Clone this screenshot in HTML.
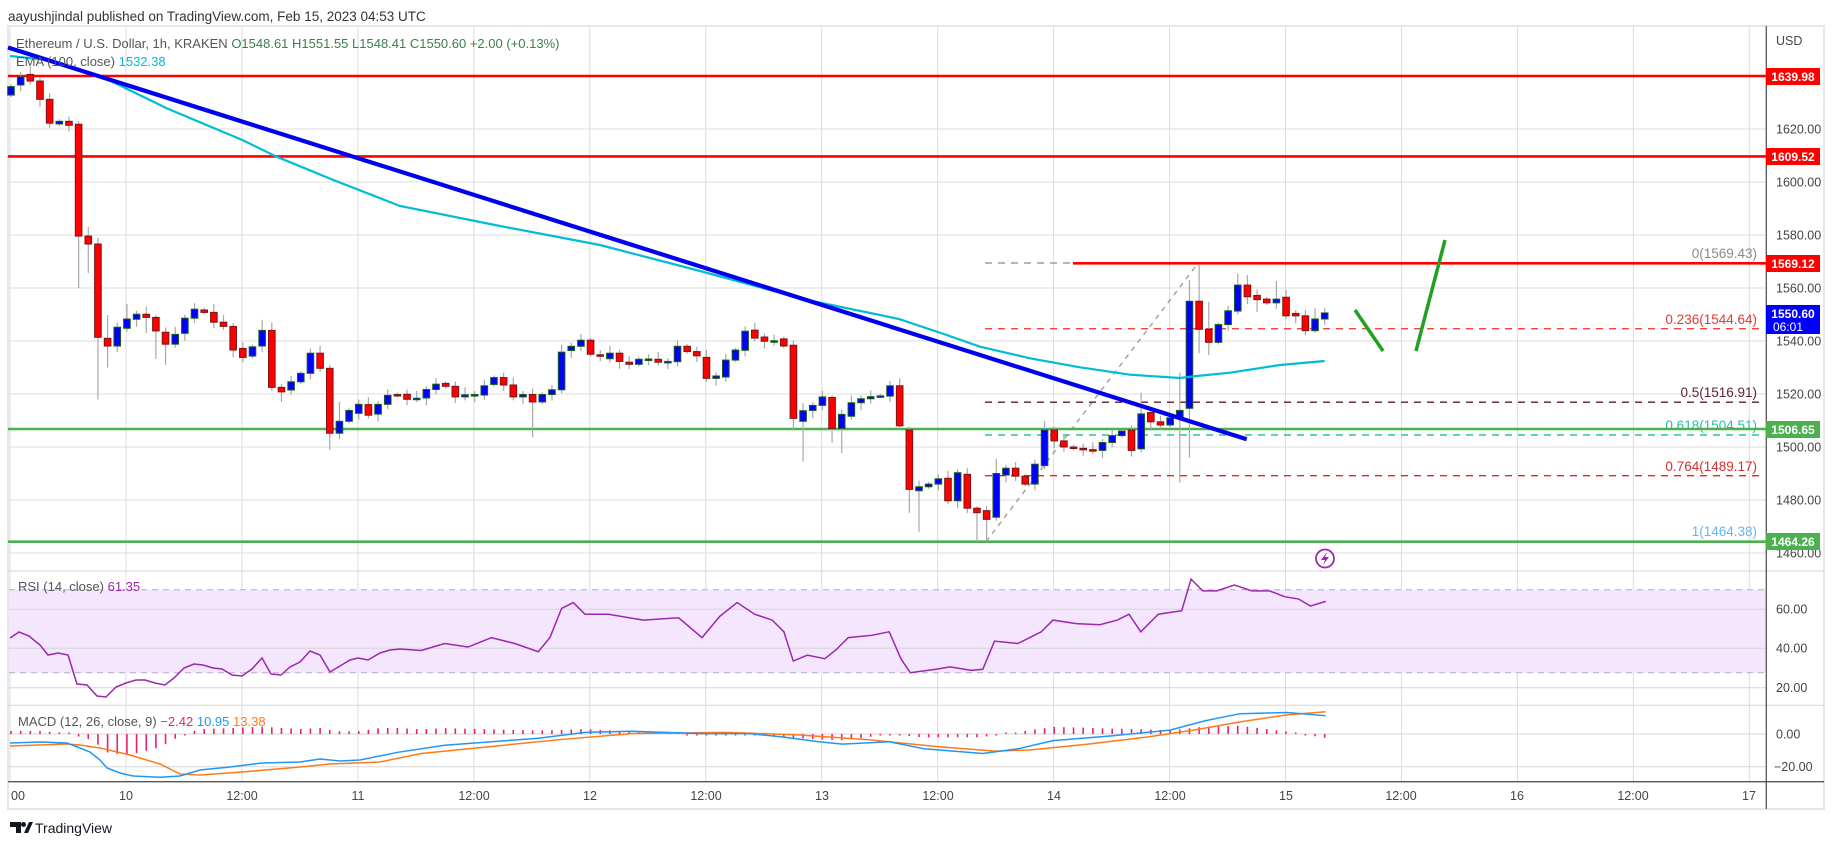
<!DOCTYPE html>
<html><head><meta charset="utf-8">
<style>
html,body{margin:0;padding:0;background:#fff;}
svg{display:block;font-family:"Liberation Sans",Arial,sans-serif;}
</style></head>
<body>
<svg id="s" xmlns="http://www.w3.org/2000/svg" width="1834" height="845" viewBox="0 0 1834 845">
<rect x="0" y="0" width="1834" height="845" fill="#fff"/>
<text x="8" y="21" font-size="13.5" fill="#333">aayushjindal published on TradingView.com, Feb 15, 2023 04:53 UTC</text>
<rect x="8" y="26" width="1816" height="783" fill="#fff" stroke="#e6e7ec" stroke-width="2"/>
<g id="grid" stroke="#dcdcdc" stroke-width="1"></g>
<rect x="9" y="589.8" width="1757" height="83" fill="#f3e6fd"/>
<line x1="9" y1="589.8" x2="1766" y2="589.8" stroke="#b9a8c8" stroke-dasharray="6,5"/>
<line x1="9" y1="672.8" x2="1766" y2="672.8" stroke="#b9a8c8" stroke-dasharray="6,5"/>
<g id="hgrid" stroke="#dcdcdc" stroke-width="1"></g>
<line x1="8" y1="571" x2="1824" y2="571" stroke="#d6d6d6"/>
<line x1="8" y1="705.3" x2="1824" y2="705.3" stroke="#d6d6d6"/>
<line x1="8" y1="781.7" x2="1824" y2="781.7" stroke="#555" stroke-width="1.3"/>
<line x1="1766.3" y1="26" x2="1766.3" y2="809" stroke="#555" stroke-width="1.3"/>
<g stroke-width="1.4" fill="none">
<line x1="986" y1="541.7" x2="1196.7" y2="265" stroke="#9e9e9e" stroke-dasharray="5,5"/>
<line x1="985" y1="263" x2="1760" y2="263" stroke="#9e9e9e" stroke-dasharray="7,6"/>
<line x1="985" y1="328.7" x2="1760" y2="328.7" stroke="#f44336" stroke-dasharray="7,6"/>
<line x1="985" y1="402.2" x2="1760" y2="402.2" stroke="#5c1a33" stroke-dasharray="7,6"/>
<line x1="985" y1="435" x2="1760" y2="435" stroke="#26c6a0" stroke-dasharray="7,6"/>
<line x1="985" y1="475.7" x2="1760" y2="475.7" stroke="#ef2020" stroke-dasharray="7,6"/>
<line x1="985" y1="541.4" x2="1760" y2="541.4" stroke="#64b5f6" stroke-dasharray="7,6"/>
</g>
<g font-size="13.5" text-anchor="end">
<text x="1757" y="258" fill="#8a8a8a">0(1569.43)</text>
<text x="1757" y="324" fill="#e53935">0.236(1544.64)</text>
<text x="1757" y="397" fill="#5d2338">0.5(1516.91)</text>
<text x="1757" y="430" fill="#26bfa0">0.618(1504.51)</text>
<text x="1757" y="471" fill="#d32f2f">0.764(1489.17)</text>
<text x="1757" y="536" fill="#64b5f6">1(1464.38)</text>
</g>
<line x1="8" y1="76" x2="1766" y2="76" stroke="#ff0000" stroke-width="2.6"/>
<line x1="8" y1="156.4" x2="1766" y2="156.4" stroke="#ff0000" stroke-width="2.6"/>
<line x1="1073" y1="263.3" x2="1766" y2="263.3" stroke="#ff0000" stroke-width="2.6"/>
<line x1="8" y1="429" x2="1766" y2="429" stroke="#4caf50" stroke-width="2.6"/>
<line x1="8" y1="541.7" x2="1766" y2="541.7" stroke="#4caf50" stroke-width="2.6"/>
<g id="candles"></g>
<polyline id="ema" fill="none" stroke="#00bcd4" stroke-width="2.2" points=""/>
<line x1="8" y1="47.5" x2="1246.7" y2="439.3" stroke="#0000ee" stroke-width="4.2"/>
<line x1="1355" y1="310" x2="1383" y2="351" stroke="#22a022" stroke-width="3.5"/>
<line x1="1416" y1="351" x2="1445" y2="240" stroke="#22a022" stroke-width="3.5"/>
<circle cx="1325" cy="558.5" r="9" fill="none" stroke="#9c27b0" stroke-width="1.8"/>
<path d="M1327 552 L1321 560 L1325 560 L1323 565 L1329 557 L1325 557 Z" fill="#9c27b0"/>
<g id="rsi"></g><g id="macd"></g>
<text x="16" y="48" font-size="13" fill="#555">Ethereum / U.S. Dollar, 1h, KRAKEN <tspan fill="#3d7d4e">O1548.61  H1551.55  L1548.41  C1550.60  +2.00 (+0.13%)</tspan></text>
<text x="16" y="66" font-size="13" fill="#555">EMA (100, close) <tspan fill="#00bcd4">1532.38</tspan></text>
<text x="18" y="591" font-size="13" fill="#555">RSI (14, close) <tspan fill="#9c27b0">61.35</tspan></text>
<text x="18" y="726" font-size="13" fill="#555">MACD (12, 26, close, 9) <tspan fill="#f0246e">−2.42</tspan> <tspan fill="#2196f3">10.95</tspan> <tspan fill="#ff7a1a">13.38</tspan></text>
<g font-size="12.5" fill="#444">
<text x="1776" y="45">USD</text>
<text x="1776" y="133.5">1620.00</text>
<text x="1776" y="186.5">1600.00</text>
<text x="1776" y="239.5">1580.00</text>
<text x="1776" y="292.5">1560.00</text>
<text x="1776" y="345.5">1540.00</text>
<text x="1776" y="398.5">1520.00</text>
<text x="1776" y="451.5">1500.00</text>
<text x="1776" y="504.5">1480.00</text>
<text x="1776" y="557.5">1460.00</text>
<text x="1776" y="613.5">60.00</text>
<text x="1776" y="652.5">40.00</text>
<text x="1776" y="692">20.00</text>
<text x="1776" y="738.5">0.00</text>
<text x="1774" y="771">−20.00</text>
</g>
<g font-size="12" font-weight="bold" fill="#fff" text-anchor="middle">
<rect x="1766" y="68" width="54" height="17" fill="#ff0000"/><text x="1793" y="81">1639.98</text>
<rect x="1766" y="148" width="54" height="17" fill="#ff0000"/><text x="1793" y="161">1609.52</text>
<rect x="1766" y="255" width="54" height="17" fill="#ff0000"/><text x="1793" y="268">1569.12</text>
<rect x="1766" y="305" width="54" height="29" fill="#0000ff"/><text x="1793" y="318">1550.60</text><text x="1788" y="331" font-weight="normal">06:01</text>
<rect x="1766" y="421" width="54" height="17" fill="#4caf50"/><text x="1793" y="434">1506.65</text>
<rect x="1766" y="533" width="54" height="17" fill="#4caf50"/><text x="1793" y="546">1464.26</text>
</g>
<g font-size="12.5" fill="#444" text-anchor="middle">
<text x="18" y="800">00</text>
<text x="126" y="800">10</text>
<text x="242" y="800">12:00</text>
<text x="358" y="800">11</text>
<text x="474" y="800">12:00</text>
<text x="590" y="800">12</text>
<text x="706" y="800">12:00</text>
<text x="822" y="800">13</text>
<text x="938" y="800">12:00</text>
<text x="1054" y="800">14</text>
<text x="1170" y="800">12:00</text>
<text x="1286" y="800">15</text>
<text x="1401" y="800">12:00</text>
<text x="1517" y="800">16</text>
<text x="1633" y="800">12:00</text>
<text x="1749" y="800">17</text>
</g>
<path d="M10 822 h11 v11 h-5 v-6 h-6 Z" fill="#131722"/>
<circle cx="23.5" cy="824.5" r="2.5" fill="#131722"/>
<path d="M24 833 L29 822 L33 822 L28 833 Z" fill="#131722"/>
<text x="35" y="833" font-size="14" fill="#131722">TradingView</text>
</svg>
<script>
(function(){
var NS="http://www.w3.org/2000/svg";
function el(p,t,a){var e=document.createElementNS(NS,t);for(var k in a)e.setAttribute(k,a[k]);p.appendChild(e);return e;}
var g=document.getElementById('grid'),hg=document.getElementById('hgrid');
for(var k=-1;k<=14;k++){var x=126+115.95*k;if(x<9)continue;el(g,'line',{x1:x,y1:27,x2:x,y2:781});}
[76,129,182,235,288,341,394,447,500,553].forEach(function(y){el(g,'line',{x1:9,y1:y,x2:1766,y2:y});});
[609.3,648.3,687.7,734,766.7].forEach(function(y){el(hg,'line',{x1:9,y1:y,x2:1766,y2:y,stroke:'#d6d6d6'});});
function PY(p){return 447-(p-1500)*2.65;}
var C=[[1632.8,1636],[1636.6,1639.7],[1640.6,1638.1],[1638.1,1631.2],[1631.2,1622.2],[1621.9,1622.9],[1622.9,1621.4],[1621.8,1579.6],[1579.6,1576.6],[1576.6,1541.4],
[1541,1538.1],[1538.1,1545.2],[1544.8,1548.3],[1548.2,1550.1],[1550.1,1548.9],[1548.9,1543.8],[1543.3,1538.8],[1538.8,1542.5],[1542.9,1548.6],[1548.6,1552],
[1551.7,1550.8],[1550.8,1547.1],[1547.1,1545.5],[1545.5,1536.6],[1537.2,1533.8],[1534.3,1537.8],[1538.1,1544],[1544,1522.5],[1522.5,1520.8],[1521.5,1524.6],
[1524.6,1527.8],[1527.8,1535.4],[1535.4,1529.7],[1529.7,1505.2],[1505.2,1509.7],[1509.7,1513.8],[1512.7,1516.1],[1516,1512],[1512.4,1516.1],[1516.1,1519.5],
[1519.8,1519.6],[1519.9,1518],[1518.3,1518.4],[1518.5,1521.7],[1521.7,1523.7],[1524,1522.9],[1522.9,1518.9],[1518.9,1519.7],[1519.7,1519.8],[1519.6,1523.1],
[1523.6,1526.2],[1526.2,1523.4],[1523.4,1518.9],[1518.9,1519.8],[1519.8,1517],[1517,1519.8],[1519.8,1521.6],[1521.6,1535.8],[1536.4,1538],[1538,1540.3],
[1540.3,1535],[1534.8,1534.7],[1533.3,1535.4],[1535.4,1532.3],[1532,1531.2],[1531.2,1533.1],[1533.1,1533.2],[1533.1,1532],[1532.2,1532.3],[1532.2,1538],
[1538,1536],[1536,1534.4],[1533.8,1525.9],[1525.9,1526.8],[1526.4,1532.8],[1532.8,1536.6],[1536.5,1543.7],[1544.1,1541.1],[1541.5,1539.9],[1540,1540.1],
[1540.8,1538.1],[1538.4,1510.8],[1509.7,1513.7],[1513.8,1515.7],[1515.7,1518.9],[1518.7,1507],[1507,1512.3],[1511.6,1516.7],[1516.7,1518.2],[1518.2,1519],
[1519.2,1519.3],[1519.2,1523.1],[1523.1,1508],[1506.4,1484],[1483.5,1485],[1485,1486],[1486,1488],[1488.2,1479.7],[1479.7,1490.3],[1489.7,1476.9],
[1476.9,1475.2],[1476,1472.7],[1473.5,1490],[1489.4,1492],[1492,1489],[1489,1486],[1486,1493.5],[1493,1506.4],[1506.4,1502.3],[1502.3,1500],
[1500,1499.5],[1499.5,1499],[1499,1498.5],[1498.7,1501.7],[1501.7,1504.3],[1504.3,1506],[1506.4,1498.7],[1499.3,1512.5],[1513,1509.5],[1509.5,1508.3],
[1508.3,1511],[1511,1513.8],[1514.6,1555],[1555,1544.4],[1544.4,1539.5],[1539.5,1546.2],[1546.2,1551.4],[1551.3,1561.1],[1561.1,1556.7],[1557.2,1555.6],
[1555.8,1554.4],[1554.4,1555.8],[1556.5,1549.5],[1550.4,1549.5],[1549.5,1543.9],[1543.9,1548.3],[1548.3,1550.6]];
var HI={7:1623,8:1583,10:1549.8,12:1554,14:1553,21:1554,26:1548,27:1547,34:1517.1,102:1495.5,107:1509.8,117:1520.5,121:1528,122:1563,123:1568.7,124:1554.8,127:1565.5,128:1564.9,131:1562.6,135:1552.3};
var LO={7:1559.9,8:1565.7,9:1518,10:1530,14:1543,15:1533.2,16:1531,28:1517,33:1498.9,34:1503,54:1503.7,81:1506.2,82:1494.5,85:1501.6,86:1497.7,93:1475.2,94:1468,100:1464.3,101:1464.3,121:1486.5,122:1496,123:1535.4,124:1534.7,129:1551};
var cg=document.getElementById('candles');
var N=C.length,sp=1313.7/(N-1);
for(var i=0;i<N;i++){
 var o=C[i][0],c=C[i][1],x=11+sp*i,mx=Math.max(o,c),mn=Math.min(o,c);
 var hi=HI[i]!==undefined?HI[i]:mx+0.8+((i*7)%5)*0.5;
 var lo=LO[i]!==undefined?LO[i]:mn-0.8-((i*3)%5)*0.5;
 el(cg,'line',{x1:x,y1:PY(hi),x2:x,y2:PY(lo),stroke:'#a8a8a8','stroke-width':1.2});
 var up=c>=o,yt=PY(mx),h=Math.max(PY(mn)-yt,1.5);
 el(cg,'rect',{x:x-3.3,y:yt,width:6.6,height:h,fill:up?'#0000ff':'#ff0000',stroke:up?'#1b5e20':'#7a1515','stroke-width':1});
}
var E=[[10,56],[47,60],[100,75.7],[166.7,108.3],[242.3,140],[276.7,156.7],[333.3,180],[400,206],[500,226],[600,245],[700,271],[807,300],[880,315],[900,319.3],[946.7,335],[980,346.7],[1030,358.3],[1080,367.3],[1130,374.7],[1180,378],[1196.7,376],[1230,372.7],[1280,365],[1324.7,361]];
document.getElementById('ema').setAttribute('points',E.map(function(p){return p.join(',');}).join(' '));
var R=[[10,638],[19,632],[29,636],[40,645],[48,655],[58,653],[68,655],[77,684],[87,685],[97,696],[106,697],[116,687],[126,683],[136,680],[145,680],[155,683],[165,685],[174,678],[184,668],[194,664],[203,665],[213,668],[222,669],[232,675],[242,676],[252,669],[262,658],[271,674],[281,675],[290,667],[300,662],[310,651],[320,655],[330,672],[340,666],[350,660],[358,658],[368,660],[380,653],[390,650],[400,649]];
var RT=[[360,556],[380,550],[400,553],[420,545],[440,550],[460,557],[470,545],[480,520],[490,515],[500,525],[520,525],[550,530],[580,528],[600,545],[615,527],[630,515],[645,525],[660,530],[670,540],[678,565],[690,560],[705,563],[715,555],[725,545],[745,543],[760,540],[770,563],[778,575],[800,572],[812,570],[830,573],[840,572],[850,548],[870,550],[890,540],[900,530],[920,533],[940,534],[955,530],[965,525],[975,540],[990,525],[1010,522],[1018,495],[1028,505],[1040,505],[1055,500],[1070,505],[1085,505],[1098,510],[1110,512],[1120,518],[1133,514]];
RT.forEach(function(p){R.push([p[0]*1.17,p[1]*1.17]);});
el(document.getElementById('rsi'),'polyline',{points:R.map(function(p){return p.join(',');}).join(' '),fill:'none',stroke:'#9c27b0','stroke-width':1.5});
var MB=[[10,743],[40,742],[67,743],[80,748],[90,752],[100,760],[107,768],[120,773],[133,776],[160,777.3],[180,776],[200,770],[230,767],[262,763],[300,762],[320,759],[340,761],[360,760]];
var MBT=[[340,643],[380,637],[420,634],[460,631],[500,626],[540,625],[600,627],[640,627],[670,630],[700,634],[720,636],[760,634],[790,640],[840,644],[870,640],[900,633],[950,629],[1000,624],[1030,616],[1060,610],[1100,609],[1133,611.7]];
MBT.forEach(function(p){MB.push([p[0]*1.17,p[1]*1.17]);});
var MO=[[10,746],[67,744],[80,745],[100,748],[130,755],[160,764],[180,774],[200,775],[242,772],[300,767],[330,764],[380,762]];
var MOT=[[360,644],[420,638],[480,632],[540,627],[620,626],[680,628],[740,632],[800,638],[850,642],[880,641],[930,636],[980,630],[1020,624],[1060,617],[1100,611],[1133,608.3]];
MOT.forEach(function(p){MO.push([p[0]*1.17,p[1]*1.17]);});
function interp(A,x){if(x<=A[0][0])return A[0][1];for(var j=1;j<A.length;j++){if(x<=A[j][0]){var a=A[j-1],b=A[j];return a[1]+(b[1]-a[1])*(x-a[0])/(b[0]-a[0]);}}return A[A.length-1][1];}
var mg=document.getElementById('macd');
for(var i=0;i<N;i++){var x=11+sp*i;var h=interp(MO,x)-interp(MB,x);
 var y2=734-h;if(Math.abs(h)<1.5){y2=734-(h>=0?1.5:-1.5);}
 el(mg,'line',{x1:x,y1:734,x2:x,y2:y2,stroke:'#ee1f72','stroke-width':1.6});}
el(mg,'polyline',{points:MO.map(function(p){return p.join(',');}).join(' '),fill:'none',stroke:'#ff7a1a','stroke-width':1.5});
el(mg,'polyline',{points:MB.map(function(p){return p.join(',');}).join(' '),fill:'none',stroke:'#2196f3','stroke-width':1.5});
})();
</script>
</body></html>
